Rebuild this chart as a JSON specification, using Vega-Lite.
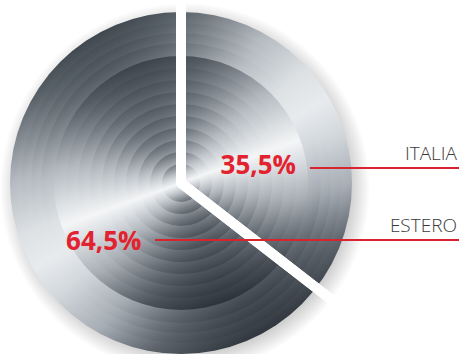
{
  "$schema": "https://vega.github.io/schema/vega-lite/v6.json",
  "autosize": "none",
  "width": 362,
  "height": 342,
  "padding": {"left": 0, "top": 12, "right": 97, "bottom": 0},
  "background": "white",
  "config": {
    "view": {"stroke": null},
    "locale": {"number": {"decimal": ",", "thousands": ".", "grouping": [3], "currency": ["", " €"]}},
    "point": {"shape": "circle", "filled": true, "opacity": 1, "strokeWidth": 0}
  },
  "data": {"values": [
    {"paese": "ITALIA", "quota": 0.355},
    {"paese": "ESTERO", "quota": 0.645}
  ]},
  "layer": [
    {"data": {"values": [{"disco": "ombra"}]},
     "mark": {"type": "point", "size": 136900, "xOffset": 4, "yOffset": 5,
       "fill": {"gradient": "radial", "x1": 0.5, "y1": 0.5, "r1": 0, "x2": 0.5, "y2": 0.5, "r2": 0.5,
         "stops": [{"offset": 0, "color": "rgba(60,60,60,0.3)"}, {"offset": 0.88, "color": "rgba(60,60,60,0.28)"}, {"offset": 1, "color": "rgba(60,60,60,0)"}]}},
     "encoding": {}},
    {"data": {"values": [{"disco": "e171"}]},
     "mark": {"type": "point", "size": 116964,
       "fill": {"gradient": "linear", "x1": 0.25, "y1": 0.067, "x2": 0.75, "y2": 0.933,
         "stops": [{"offset": 0, "color": "#40474e"}, {"offset": 0.07, "color": "#5a6269"}, {"offset": 0.25, "color": "#b4bac0"}, {"offset": 0.4, "color": "#dde1e4"}, {"offset": 0.5, "color": "#e8ebee"}, {"offset": 0.6, "color": "#d4d9dd"}, {"offset": 0.75, "color": "#a6adb4"}, {"offset": 0.88, "color": "#5c636b"}, {"offset": 1, "color": "#30363d"}]}},
     "encoding": {}},
    {"data": {"values": [{"disco": "e160"}]},
     "mark": {"type": "point", "size": 102400, "opacity": 0.45,
       "fill": {"gradient": "linear", "x1": 0.25, "y1": 0.067, "x2": 0.75, "y2": 0.933,
         "stops": [{"offset": 0, "color": "#40474e"}, {"offset": 0.07, "color": "#5a6269"}, {"offset": 0.25, "color": "#b4bac0"}, {"offset": 0.4, "color": "#dde1e4"}, {"offset": 0.5, "color": "#e8ebee"}, {"offset": 0.6, "color": "#d4d9dd"}, {"offset": 0.75, "color": "#a6adb4"}, {"offset": 0.88, "color": "#5c636b"}, {"offset": 1, "color": "#30363d"}]}},
     "encoding": {}},
    {"data": {"values": [{"disco": "e150"}]},
     "mark": {"type": "point", "size": 90000, "opacity": 0.45,
       "fill": {"gradient": "linear", "x1": 0.25, "y1": 0.067, "x2": 0.75, "y2": 0.933,
         "stops": [{"offset": 0, "color": "#40474e"}, {"offset": 0.07, "color": "#5a6269"}, {"offset": 0.25, "color": "#b4bac0"}, {"offset": 0.4, "color": "#dde1e4"}, {"offset": 0.5, "color": "#e8ebee"}, {"offset": 0.6, "color": "#d4d9dd"}, {"offset": 0.75, "color": "#a6adb4"}, {"offset": 0.88, "color": "#5c636b"}, {"offset": 1, "color": "#30363d"}]}},
     "encoding": {}},
    {"data": {"values": [{"disco": "e140"}]},
     "mark": {"type": "point", "size": 78400, "opacity": 0.45,
       "fill": {"gradient": "linear", "x1": 0.25, "y1": 0.067, "x2": 0.75, "y2": 0.933,
         "stops": [{"offset": 0, "color": "#40474e"}, {"offset": 0.07, "color": "#5a6269"}, {"offset": 0.25, "color": "#b4bac0"}, {"offset": 0.4, "color": "#dde1e4"}, {"offset": 0.5, "color": "#e8ebee"}, {"offset": 0.6, "color": "#d4d9dd"}, {"offset": 0.75, "color": "#a6adb4"}, {"offset": 0.88, "color": "#5c636b"}, {"offset": 1, "color": "#30363d"}]}},
     "encoding": {}},
    {"data": {"values": [{"disco": "i127"}]},
     "mark": {"type": "point", "size": 64516,
       "fill": {"gradient": "linear", "x1": 0.329, "y1": 0.03, "x2": 0.671, "y2": 0.97,
         "stops": [{"offset": 0, "color": "#3c434a"}, {"offset": 0.08, "color": "#555c64"}, {"offset": 0.28, "color": "#b2b8be"}, {"offset": 0.42, "color": "#dde1e4"}, {"offset": 0.5, "color": "#f4f5f6"}, {"offset": 0.58, "color": "#dadee2"}, {"offset": 0.72, "color": "#a8aeb4"}, {"offset": 0.9, "color": "#4c535b"}, {"offset": 1, "color": "#2c3239"}]}},
     "encoding": {}},
    {"data": {"values": [{"disco": "i115"}]},
     "mark": {"type": "point", "size": 52900, "opacity": 0.45,
       "fill": {"gradient": "linear", "x1": 0.329, "y1": 0.03, "x2": 0.671, "y2": 0.97,
         "stops": [{"offset": 0, "color": "#3c434a"}, {"offset": 0.08, "color": "#555c64"}, {"offset": 0.28, "color": "#b2b8be"}, {"offset": 0.42, "color": "#dde1e4"}, {"offset": 0.5, "color": "#f4f5f6"}, {"offset": 0.58, "color": "#dadee2"}, {"offset": 0.72, "color": "#a8aeb4"}, {"offset": 0.9, "color": "#4c535b"}, {"offset": 1, "color": "#2c3239"}]}},
     "encoding": {}},
    {"data": {"values": [{"disco": "i103"}]},
     "mark": {"type": "point", "size": 42436, "opacity": 0.45,
       "fill": {"gradient": "linear", "x1": 0.329, "y1": 0.03, "x2": 0.671, "y2": 0.97,
         "stops": [{"offset": 0, "color": "#3c434a"}, {"offset": 0.08, "color": "#555c64"}, {"offset": 0.28, "color": "#b2b8be"}, {"offset": 0.42, "color": "#dde1e4"}, {"offset": 0.5, "color": "#f4f5f6"}, {"offset": 0.58, "color": "#dadee2"}, {"offset": 0.72, "color": "#a8aeb4"}, {"offset": 0.9, "color": "#4c535b"}, {"offset": 1, "color": "#2c3239"}]}},
     "encoding": {}},
    {"data": {"values": [{"disco": "i91"}]},
     "mark": {"type": "point", "size": 33124, "opacity": 0.45,
       "fill": {"gradient": "linear", "x1": 0.329, "y1": 0.03, "x2": 0.671, "y2": 0.97,
         "stops": [{"offset": 0, "color": "#3c434a"}, {"offset": 0.08, "color": "#555c64"}, {"offset": 0.28, "color": "#b2b8be"}, {"offset": 0.42, "color": "#dde1e4"}, {"offset": 0.5, "color": "#f4f5f6"}, {"offset": 0.58, "color": "#dadee2"}, {"offset": 0.72, "color": "#a8aeb4"}, {"offset": 0.9, "color": "#4c535b"}, {"offset": 1, "color": "#2c3239"}]}},
     "encoding": {}},
    {"data": {"values": [{"disco": "i79"}]},
     "mark": {"type": "point", "size": 24964, "opacity": 0.45,
       "fill": {"gradient": "linear", "x1": 0.329, "y1": 0.03, "x2": 0.671, "y2": 0.97,
         "stops": [{"offset": 0, "color": "#3c434a"}, {"offset": 0.08, "color": "#555c64"}, {"offset": 0.28, "color": "#b2b8be"}, {"offset": 0.42, "color": "#dde1e4"}, {"offset": 0.5, "color": "#f4f5f6"}, {"offset": 0.58, "color": "#dadee2"}, {"offset": 0.72, "color": "#a8aeb4"}, {"offset": 0.9, "color": "#4c535b"}, {"offset": 1, "color": "#2c3239"}]}},
     "encoding": {}},
    {"data": {"values": [{"disco": "i67"}]},
     "mark": {"type": "point", "size": 17956, "opacity": 0.45,
       "fill": {"gradient": "linear", "x1": 0.329, "y1": 0.03, "x2": 0.671, "y2": 0.97,
         "stops": [{"offset": 0, "color": "#3c434a"}, {"offset": 0.08, "color": "#555c64"}, {"offset": 0.28, "color": "#b2b8be"}, {"offset": 0.42, "color": "#dde1e4"}, {"offset": 0.5, "color": "#f4f5f6"}, {"offset": 0.58, "color": "#dadee2"}, {"offset": 0.72, "color": "#a8aeb4"}, {"offset": 0.9, "color": "#4c535b"}, {"offset": 1, "color": "#2c3239"}]}},
     "encoding": {}},
    {"data": {"values": [{"disco": "i55"}]},
     "mark": {"type": "point", "size": 12100, "opacity": 0.45,
       "fill": {"gradient": "linear", "x1": 0.329, "y1": 0.03, "x2": 0.671, "y2": 0.97,
         "stops": [{"offset": 0, "color": "#3c434a"}, {"offset": 0.08, "color": "#555c64"}, {"offset": 0.28, "color": "#b2b8be"}, {"offset": 0.42, "color": "#dde1e4"}, {"offset": 0.5, "color": "#f4f5f6"}, {"offset": 0.58, "color": "#dadee2"}, {"offset": 0.72, "color": "#a8aeb4"}, {"offset": 0.9, "color": "#4c535b"}, {"offset": 1, "color": "#2c3239"}]}},
     "encoding": {}},
    {"data": {"values": [{"disco": "i43"}]},
     "mark": {"type": "point", "size": 7396, "opacity": 0.45,
       "fill": {"gradient": "linear", "x1": 0.329, "y1": 0.03, "x2": 0.671, "y2": 0.97,
         "stops": [{"offset": 0, "color": "#3c434a"}, {"offset": 0.08, "color": "#555c64"}, {"offset": 0.28, "color": "#b2b8be"}, {"offset": 0.42, "color": "#dde1e4"}, {"offset": 0.5, "color": "#f4f5f6"}, {"offset": 0.58, "color": "#dadee2"}, {"offset": 0.72, "color": "#a8aeb4"}, {"offset": 0.9, "color": "#4c535b"}, {"offset": 1, "color": "#2c3239"}]}},
     "encoding": {}},
    {"data": {"values": [{"disco": "i31"}]},
     "mark": {"type": "point", "size": 3844, "opacity": 0.45,
       "fill": {"gradient": "linear", "x1": 0.329, "y1": 0.03, "x2": 0.671, "y2": 0.97,
         "stops": [{"offset": 0, "color": "#3c434a"}, {"offset": 0.08, "color": "#555c64"}, {"offset": 0.28, "color": "#b2b8be"}, {"offset": 0.42, "color": "#dde1e4"}, {"offset": 0.5, "color": "#f4f5f6"}, {"offset": 0.58, "color": "#dadee2"}, {"offset": 0.72, "color": "#a8aeb4"}, {"offset": 0.9, "color": "#4c535b"}, {"offset": 1, "color": "#2c3239"}]}},
     "encoding": {}},
    {"data": {"values": [{"disco": "i19"}]},
     "mark": {"type": "point", "size": 1444, "opacity": 0.45,
       "fill": {"gradient": "linear", "x1": 0.329, "y1": 0.03, "x2": 0.671, "y2": 0.97,
         "stops": [{"offset": 0, "color": "#3c434a"}, {"offset": 0.08, "color": "#555c64"}, {"offset": 0.28, "color": "#b2b8be"}, {"offset": 0.42, "color": "#dde1e4"}, {"offset": 0.5, "color": "#f4f5f6"}, {"offset": 0.58, "color": "#dadee2"}, {"offset": 0.72, "color": "#a8aeb4"}, {"offset": 0.9, "color": "#4c535b"}, {"offset": 1, "color": "#2c3239"}]}},
     "encoding": {}},
    {
      "mark": {"type": "arc", "outerRadius": 300, "fill": "transparent", "stroke": "white", "strokeWidth": 10, "strokeJoin": "round"},
      "encoding": {
        "theta": {"field": "quota", "type": "quantitative", "stack": true}
      }
    },
    {
      "mark": {"type": "rule", "stroke": "#d9232f", "strokeWidth": 2, "x2Offset": 97},
      "encoding": {
        "x": {"field": "paese", "type": "nominal", "scale": {"type": "point", "domain": ["ITALIA", "ESTERO"], "range": [310, 155], "padding": 0}, "axis": null},
        "x2": {"value": "width"},
        "y": {"field": "paese", "type": "nominal", "scale": {"type": "point", "domain": ["ITALIA", "ESTERO"], "range": [156, 228], "padding": 0}, "axis": null}
      }
    },
    {
      "mark": {"type": "text", "radius": 86, "dy": 21, "font": "Open Sans", "fontSize": 26, "fontWeight": "bold", "fill": "#e2232f", "align": "center", "baseline": "middle"},
      "encoding": {
        "theta": {"field": "quota", "type": "quantitative", "stack": true},
        "text": {"field": "quota", "type": "quantitative", "format": ".1%"}
      }
    },
    {
      "mark": {"type": "text", "align": "right", "baseline": "alphabetic", "dx": 95, "dy": -8, "font": "Open Sans", "fontSize": 19, "fontWeight": 300, "fill": "#3a3a3a"},
      "encoding": {
        "x": {"value": "width"},
        "y": {"field": "paese", "type": "nominal", "scale": {"type": "point", "domain": ["ITALIA", "ESTERO"], "range": [156, 228], "padding": 0}, "axis": null},
        "text": {"field": "paese", "type": "nominal"}
      }
    }
  ]
}
